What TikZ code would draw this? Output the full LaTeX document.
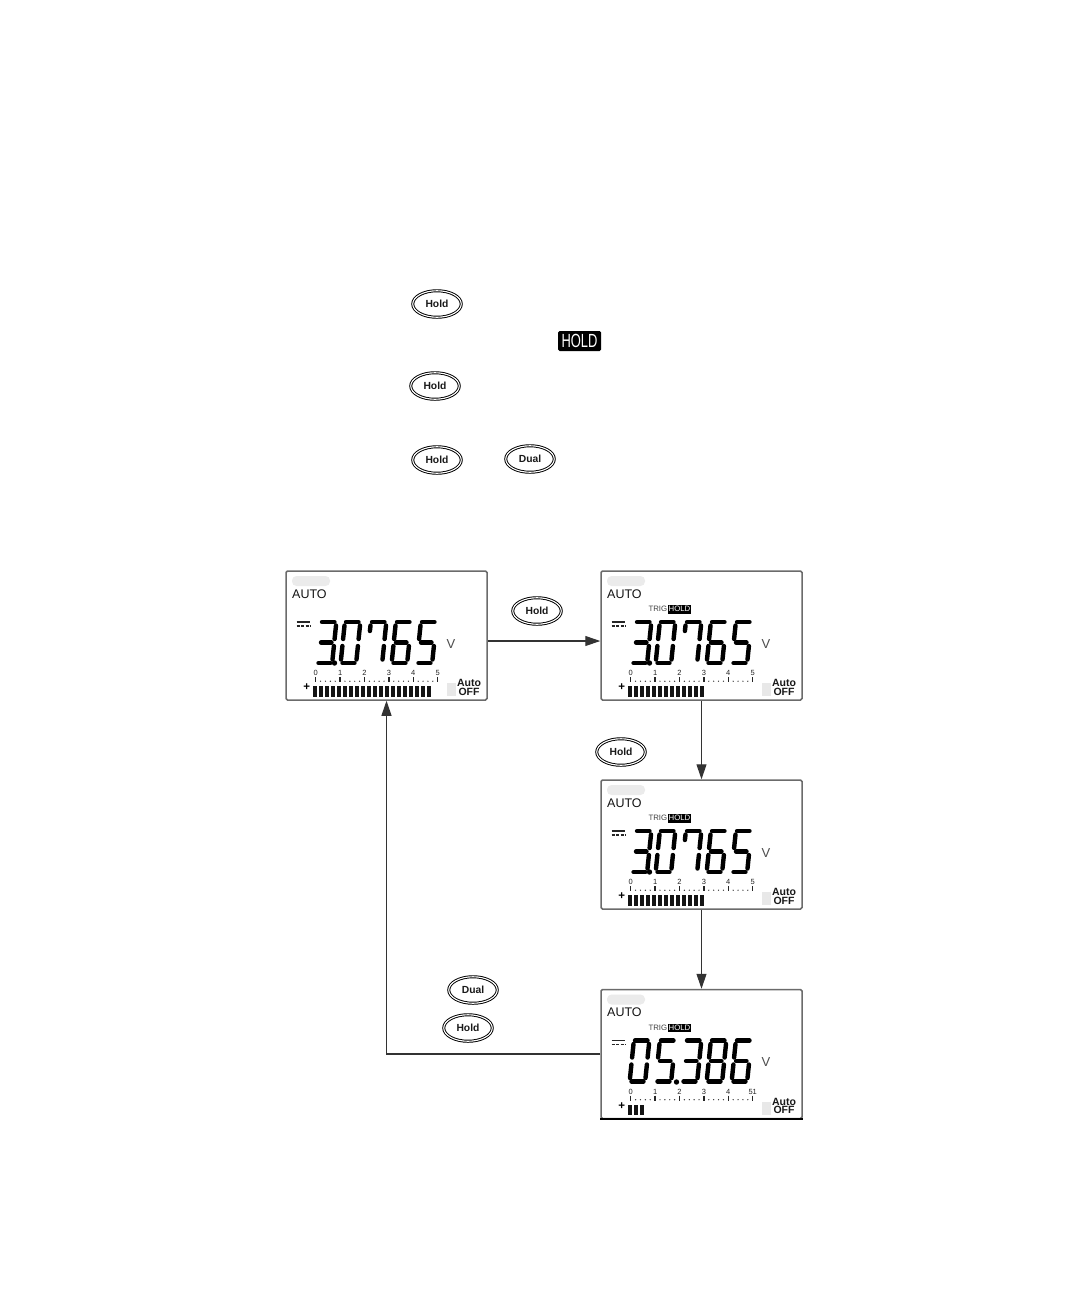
\documentclass[tikz,border=0pt]{standalone}
\usepackage{fontspec}
\usepackage{graphicx}
\setmainfont{Liberation Sans}
\usetikzlibrary{shapes.geometric,arrows.meta}
\definecolor{lcdedge}{gray}{0.42}
\tikzset{
  keycap/.style={ellipse,draw=black,line width=0.95pt,double=white,double distance=1.1pt,fill=white,
    minimum width=48.5pt,minimum height=26.5pt,inner sep=0pt,
    font=\fontsize{10.3}{12}\selectfont\bfseries,text=black!90},
  flow/.style={draw=black!80,line width=1.1pt,-{Triangle[length=15pt,width=10pt]}},
  lcdbox/.style={draw=lcdedge,line width=1.5pt,rounded corners=1.5pt,fill=white,minimum width=201pt,minimum height=129pt,inner sep=0pt},
  lcdword/.style={inner sep=0pt,font=\fontsize{12.5}{14}\selectfont,text=black!92,anchor=west},
  scalelab/.style={inner sep=0pt,font=\fontsize{7.5}{8}\selectfont,text=black!85},
  autolab/.style={inner sep=0pt,font=\fontsize{10.5}{11}\selectfont\bfseries,text=black!90},
  holdtag/.style={inner sep=0pt,font=\fontsize{7.8}{8}\selectfont,text=white},
  trigtag/.style={inner sep=0pt,font=\fontsize{7.8}{8}\selectfont,text=black!75,anchor=east},
  segline/.style={draw=black,line width=4.4pt,line cap=round},
}
\newcommand\sgna{(7,2)--(19.5,2)}
\newcommand\sgnb{(21,5.5)--(19.6,19)}
\newcommand\sgnc{(18.9,26)--(17.5,39.5)}
\newcommand\sgnd{(3.5,43)--(15.5,43)}
\newcommand\sgne{(2,39.5)--(3.4,26)}
\newcommand\sgnf{(4.1,19)--(5.5,5.5)}
\newcommand\sgng{(6,22.5)--(16.5,22.5)}
\newcommand\sgnh{(5.5,5.5)--(4.9,11)}
\newcommand\dgt[2]{\begin{scope}[shift={(#1,49)}]\foreach \s in {#2}{\draw[segline] \csname sgn\s\endcsname;}\end{scope}}
\newcommand\numA{\dgt{29}{a,b,g,c,d}\fill (48.5,92) circle (2.7);\dgt{53}{a,b,c,d,e,f}\dgt{79}{a,b,c,h}\dgt{104}{a,f,g,c,d,e}\dgt{129}{a,f,g,c,d}}
\newcommand\numB{\dgt{27}{a,b,c,d,e,f}\dgt{53}{a,f,g,c,d}\fill (75.5,92.5) circle (2.7);\dgt{79}{a,b,g,c,d}\dgt{104}{a,b,c,d,e,f,g}\dgt{129}{a,f,g,c,d,e}}
% name, x, y, digits, bars, bar step, last scale label, trig
\newcommand\lcd[8]{%
\begin{scope}[shift={(#2,#3)}]
  \node[lcdbox] (#1) at (100.5,64.5) {};
  \fill[black!8,rounded corners=4.5pt] (6,5) rectangle (44,15);
  \node[lcdword] (#1auto) at (6,23) {AUTO};
  #8
  \draw[black!85,line width=1.2pt] (10.7,51) -- (24,51);
  \draw[black!85,line width=1.2pt,dash pattern=on 3pt off 1.4pt] (10.7,55) -- (24,55);
  #4
  \node[inner sep=0pt,font=\fontsize{13}{14}\selectfont,text=black!70] (#1volt) at (165,73) {V};
  \foreach \k in {0,...,4}{
    \node[scalelab] (#1lab\k) at ({29.7+24.4*\k},102) {\k};
    \draw[black!85,line width=1.5pt] ({29.7+24.4*\k},106) -- ++(0,5);
    \foreach \d in {1,2,3,4}{\fill[black!80] ({29.7+24.4*\k+4.88*\d},110.2) circle (0.7);}
  }
  \node[scalelab] (#1lab5) at (151.7,102) {#7};
  \draw[black!85,line width=1.5pt] (151.7,106) -- ++(0,5);
  \node[inner sep=0pt,font=\fontsize{11.5}{12}\selectfont\bfseries] (#1plus) at (20.7,116.5) {+};
  \foreach \b in {1,...,#5}{\fill[black!92] ({27.3+#6*(\b-1)},115) rectangle ++(3.9,10.5);}
  \fill[black!9] (161,112) rectangle (169.5,125);
  \node[autolab] (#1a) at (183,112) {Auto};
  \node[autolab] (#1o) at (183,120.5) {OFF};
\end{scope}}
\newcommand\trighold[1]{%
  \node[trigtag] (#1t) at (66.4,38.3) {TRIG};
  \node[fill=black,inner sep=0pt,minimum width=23.5pt,minimum height=8.5pt,holdtag] (#1h) at (78.5,38.3) {HOLD};}
\begin{document}
\begin{tikzpicture}[x=1pt,y=-1pt]
\useasboundingbox[fill=white] (0,0) rectangle (1080,1296);
\node[keycap] (k1) at (437,304) {Hold};
\node[fill=black,rounded corners=1.5pt,minimum width=43pt,minimum height=20pt,inner sep=0pt,text=white,font=\fontsize{19}{20}\selectfont] (badge) at (579.5,341) {\scalebox{0.68}[1]{HOLD}};
\node[keycap] (k2) at (435,386) {Hold};
\node[keycap] (k3) at (437,460) {Hold};
\node[keycap] (k4) at (530,459) {Dual};
\lcd{sa}{286}{571}{\numA}{20}{6}{5}{}
\lcd{sb}{601}{571}{\numA}{13}{6}{5}{\trighold{sb}}
\lcd{sc}{601}{780}{\numA}{13}{6}{5}{\trighold{sc}}
\lcd{sd}{601}{989.5}{\numB}{3}{5.7}{51}{\trighold{sd}}
\draw[black,line width=1.6pt] (sd.south west) -- (sd.south east);
\node[keycap] (k5) at (537,611) {Hold};
\node[keycap] (k6) at (621,752) {Hold};
\node[keycap] (k7) at (473,990) {Dual};
\node[keycap] (k8) at (468,1028) {Hold};
\draw[flow] ([yshift=-5.5pt]sa.east) -- ([yshift=-5.5pt]sb.west);
\draw[flow] (sb.south) -- (sc.north);
\draw[flow] (sc.south) -- (sd.north);
\draw[flow] (sd.west) -| (sa.south);
\end{tikzpicture}
\end{document}
